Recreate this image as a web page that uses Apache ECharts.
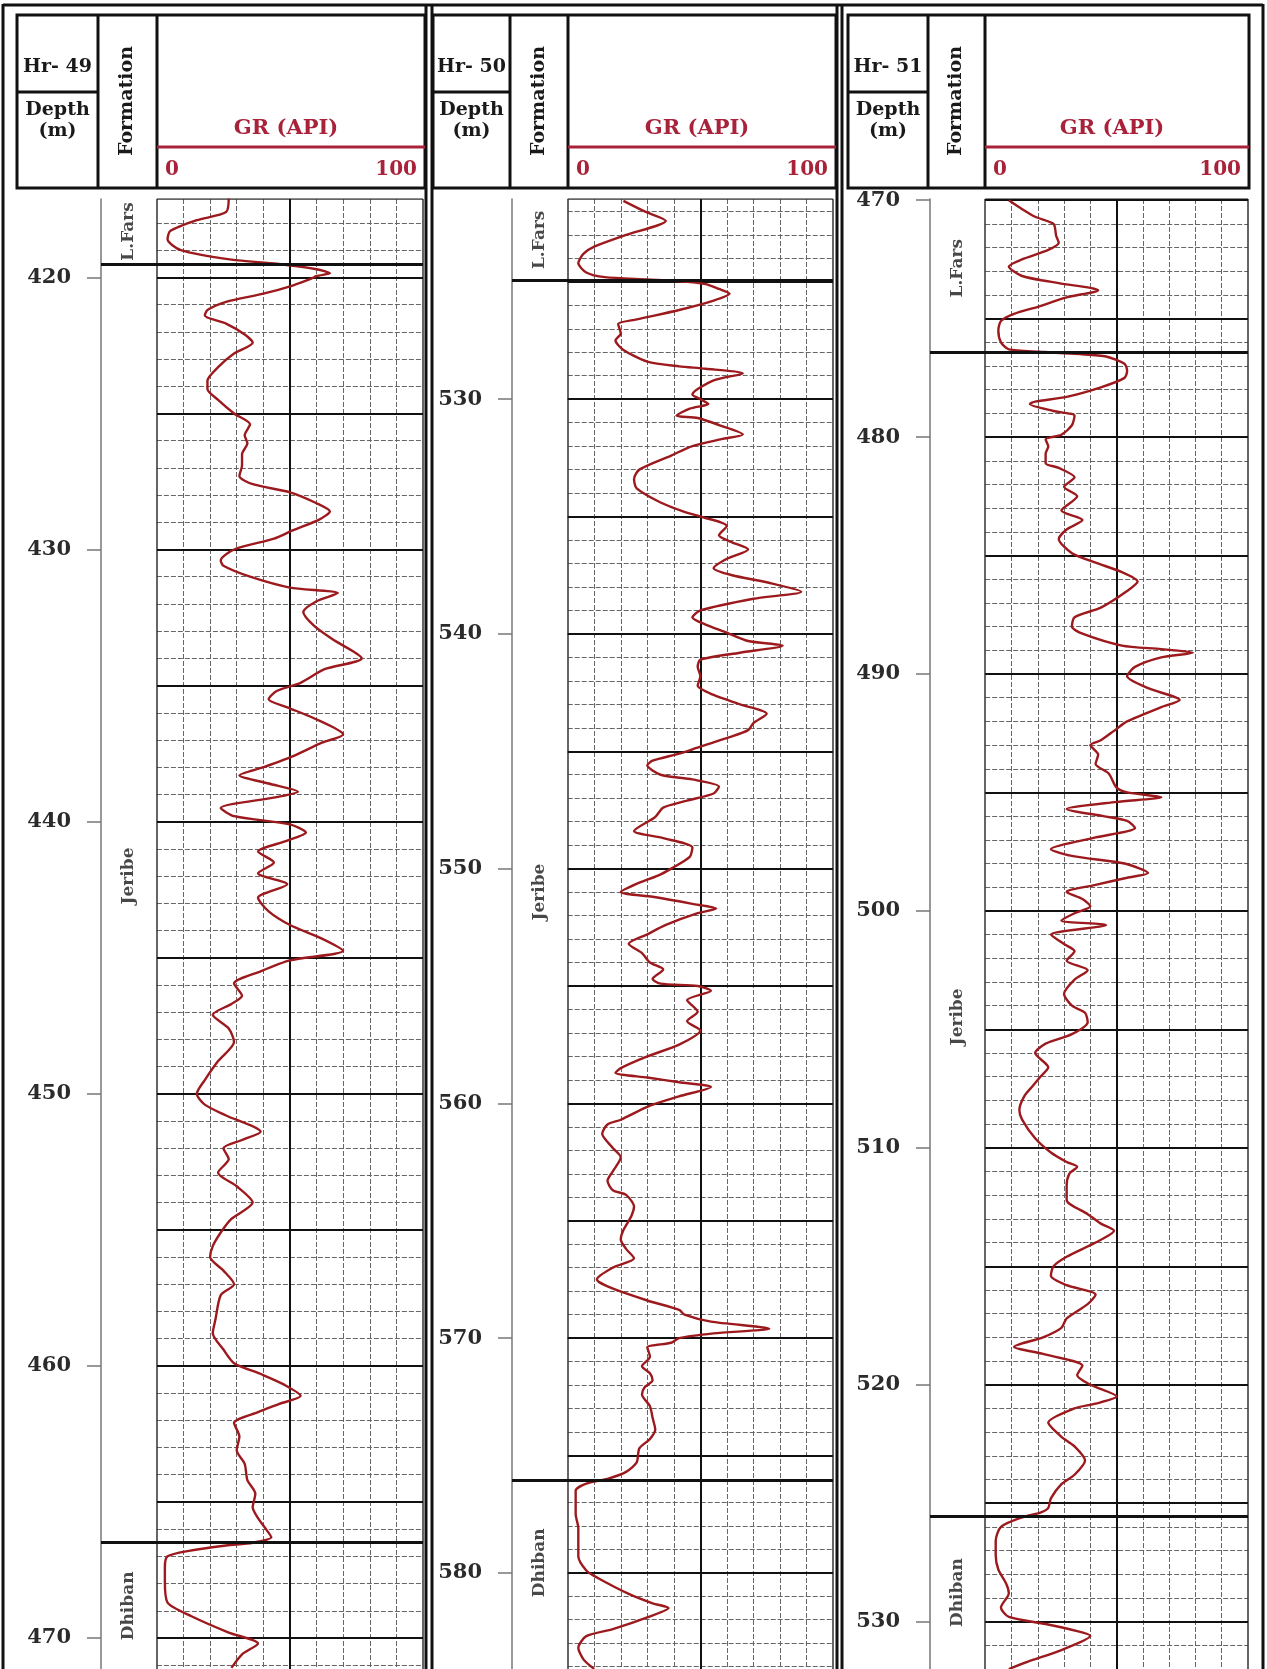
<!DOCTYPE html>
<html>
<head>
<meta charset="utf-8">
<script src="https://cdn.jsdelivr.net/npm/echarts@6/dist/echarts.min.js"></script>
<style>
html, body { margin: 0; padding: 0; background: #fff; }
#chart { width: 1267px; height: 1669px; }
</style>
</head>
<body>
<div id="chart"></div>
<script>
// well names and formation names
var wellNames = ['Hr- 49', 'Hr- 50', 'Hr- 51'];
var formationNames = ['L.Fars', 'Jeribe', 'Dhiban'];

// visible depth range of each track (m)
var depthRange49 = [417.12, 471.14];
var depthRange50 = [521.47, 584.1];
var depthRange51 = [469.95, 532.0];

// depth labels
var depthTicks49 = [420, 430, 440, 450, 460, 470];
var depthTicks50 = [530, 540, 550, 560, 570, 580];
var depthTicks51 = [470, 480, 490, 500, 510, 520, 530];

// formation boundaries (L.Fars/Jeribe, Jeribe/Dhiban)
var tops49 = [419.5, 466.5];
var tops50 = [524.95, 576.05];
var tops51 = [476.4, 525.55];

// GR log, [depth m, GR API]
var gr49 = [
  [417.1, 27], [417.6, 26], [417.9, 15], [418.3, 5], [418.6, 4], [419.0, 9], [419.35, 28],
  [419.5, 45], [419.7, 60], [419.85, 65], [419.95, 60], [420.05, 58], [420.3, 51], [420.6, 40],
  [420.9, 26], [421.2, 19], [421.4, 18], [421.7, 26], [422.1, 33], [422.4, 36], [422.8, 29],
  [423.3, 23], [423.8, 19], [424.1, 19], [424.5, 23], [425.0, 29], [425.4, 35], [425.8, 33],
  [426.1, 34], [426.5, 32], [426.9, 32], [427.3, 31], [427.6, 36], [427.9, 50], [428.3, 60],
  [428.6, 65], [428.9, 61], [429.3, 51], [429.6, 44], [430.0, 29], [430.4, 24], [430.6, 25],
  [431.0, 35], [431.4, 50], [431.6, 68], [431.9, 60], [432.3, 55], [432.8, 59], [433.3, 66],
  [434.0, 77], [434.4, 63], [434.9, 54], [435.2, 45], [435.5, 42], [435.8, 49], [436.2, 59],
  [436.8, 70], [437.1, 62], [437.6, 51], [438.0, 40], [438.3, 31], [438.6, 42], [438.9, 53],
  [439.1, 45], [439.5, 24], [439.8, 29], [440.1, 50], [440.4, 56], [440.7, 49], [441.1, 38],
  [441.5, 44], [441.9, 38], [442.3, 49], [442.8, 38], [443.3, 42], [443.8, 50], [444.3, 62],
  [444.75, 70], [445.1, 50], [445.5, 39], [445.95, 29], [446.4, 32], [446.7, 28], [447.1, 21],
  [447.6, 27], [448.1, 29], [448.8, 23], [449.5, 18], [450.0, 15], [450.4, 18], [450.8, 26],
  [451.4, 39], [451.7, 32], [452.0, 25], [452.4, 27], [452.9, 23], [453.4, 30], [454.0, 36],
  [454.6, 28], [455.1, 24], [455.6, 21], [456.0, 20], [456.5, 25], [457.0, 29], [457.4, 24],
  [458.3, 22], [458.8, 21], [459.4, 25], [459.9, 29], [460.3, 39], [460.7, 48], [461.1, 54],
  [461.4, 46], [461.7, 38], [462.1, 29], [462.6, 31], [463.1, 30], [463.6, 33], [464.2, 34],
  [464.7, 37], [465.2, 36], [465.6, 38], [466.0, 41], [466.3, 43], [466.5, 36], [466.6, 26],
  [466.8, 12], [467.0, 4], [467.4, 3], [467.9, 3], [468.7, 4], [469.2, 13], [469.8, 27],
  [470.2, 38], [470.6, 32], [471.1, 28]
];

var gr50 = [
  [521.55, 21], [522.0, 29], [522.4, 37], [523.0, 22], [523.5, 10], [523.8, 6], [524.2, 4],
  [524.6, 7], [524.8, 14], [524.9, 30], [525.0, 45], [525.1, 52], [525.3, 57], [525.5, 61],
  [525.8, 55], [526.2, 42], [526.6, 26], [526.8, 19], [527.2, 20], [527.5, 18], [527.9, 21],
  [528.4, 30], [528.6, 42], [528.7, 52], [528.9, 66], [529.2, 55], [529.8, 47], [530.0, 50],
  [530.2, 53], [530.4, 46], [530.7, 41], [530.8, 49], [531.1, 57], [531.5, 66], [531.7, 58],
  [532.0, 47], [532.4, 39], [533.0, 27], [533.4, 25], [533.8, 26], [534.4, 35], [534.8, 44],
  [535.0, 50], [535.4, 60], [535.8, 57], [536.1, 62], [536.4, 68], [536.8, 60], [537.2, 55],
  [537.5, 62], [537.8, 75], [538.2, 88], [538.5, 70], [539.0, 50], [539.3, 47], [539.6, 52],
  [539.9, 59], [540.3, 68], [540.5, 81], [540.8, 65], [541.1, 50], [541.4, 49], [541.8, 50],
  [542.2, 49], [542.6, 55], [543.0, 65], [543.4, 75], [543.8, 70], [544.1, 68], [544.4, 61],
  [544.8, 50], [545.1, 42], [545.4, 32], [545.6, 30], [546.0, 35], [546.2, 47], [546.5, 57],
  [546.8, 55], [547.1, 45], [547.4, 36], [547.8, 33], [548.4, 25], [548.7, 36], [549.1, 47],
  [549.5, 46], [550.0, 39], [550.3, 34], [550.6, 27], [551.0, 20], [551.2, 32], [551.5, 47],
  [551.7, 56], [551.9, 49], [552.4, 37], [552.8, 30], [553.2, 23], [553.6, 28], [554.0, 31],
  [554.3, 36], [554.7, 32], [554.9, 35], [555.0, 49], [555.2, 54], [555.6, 45], [556.1, 49],
  [556.5, 45], [556.9, 50], [557.5, 42], [558.0, 30], [558.5, 20], [558.7, 18], [558.9, 30],
  [559.1, 42], [559.3, 54], [559.7, 42], [560.1, 31], [560.7, 20], [560.9, 15], [561.3, 13],
  [561.9, 17], [562.3, 20], [562.9, 17], [563.3, 15], [563.7, 17], [563.9, 22], [564.4, 25],
  [564.8, 24], [565.4, 21], [565.8, 20], [566.2, 22], [566.6, 25], [567.0, 17], [567.5, 11],
  [567.8, 15], [568.4, 30], [568.8, 42], [569.0, 44], [569.3, 54], [569.6, 76], [569.8, 55],
  [570.0, 42], [570.2, 39], [570.4, 30], [570.8, 31], [571.2, 28], [571.5, 31], [571.8, 32],
  [572.1, 29], [572.4, 28], [572.9, 31], [573.4, 32], [573.9, 33], [574.3, 31], [574.7, 27],
  [575.3, 26], [575.7, 22], [576.0, 15], [576.2, 7], [576.5, 3], [577.0, 3], [577.5, 3],
  [578.1, 4], [578.7, 4], [579.3, 4], [579.9, 7], [580.2, 11], [580.9, 23], [581.3, 32],
  [581.5, 38], [581.9, 30], [582.4, 17], [582.7, 7], [583.2, 4], [583.7, 6], [584.1, 10]
];

var gr51 = [
  [470.0, 9], [470.3, 13], [470.7, 19], [471.0, 26], [471.5, 27], [471.8, 28], [472.1, 24],
  [472.5, 14], [472.8, 9], [473.2, 14], [473.5, 28], [473.7, 40], [473.8, 43], [474.1, 31],
  [474.5, 20], [474.8, 11], [475.1, 6], [475.5, 5], [476.0, 6], [476.3, 9], [476.4, 21],
  [476.5, 36], [476.6, 46], [476.9, 53], [477.2, 54], [477.5, 53], [477.9, 44], [478.3, 31],
  [478.5, 19], [478.6, 17], [478.9, 26], [479.1, 34], [479.5, 33], [479.9, 29], [480.1, 23],
  [480.4, 24], [480.7, 23], [481.1, 23], [481.3, 28], [481.7, 34], [482.1, 30], [482.5, 35],
  [483.1, 29], [483.5, 37], [483.9, 31], [484.3, 28], [484.9, 33], [485.3, 42], [485.7, 52],
  [486.1, 58], [486.5, 54], [487.2, 44], [487.6, 34], [488.0, 33], [488.3, 37], [488.8, 52],
  [488.95, 67], [489.1, 79], [489.3, 67], [489.7, 57], [490.1, 54], [490.6, 62], [491.1, 74],
  [491.4, 67], [492.0, 54], [492.4, 49], [492.8, 44], [493.0, 40], [493.4, 43], [493.8, 42],
  [494.2, 47], [494.8, 50], [495.0, 54], [495.2, 67], [495.4, 50], [495.7, 31], [496.0, 45],
  [496.2, 54], [496.5, 57], [496.9, 42], [497.4, 25], [497.7, 34], [498.0, 53], [498.4, 62],
  [498.6, 54], [498.9, 42], [499.2, 31], [499.5, 37], [499.8, 40], [500.1, 34], [500.4, 29],
  [500.6, 46], [501.0, 25], [501.4, 30], [501.7, 34], [502.1, 31], [502.5, 39], [502.9, 34],
  [503.5, 30], [504.0, 33], [504.3, 38], [504.7, 39], [505.2, 33], [505.6, 23], [506.0, 19],
  [506.6, 24], [507.0, 21], [507.4, 18], [507.8, 15], [508.4, 13], [508.8, 14], [509.6, 19],
  [510.2, 25], [510.6, 31], [510.8, 35], [511.1, 32], [511.6, 31], [512.2, 31], [512.8, 39],
  [513.2, 44], [513.5, 49], [514.0, 42], [514.6, 31], [515.0, 26], [515.4, 25], [515.8, 31],
  [516.2, 42], [516.6, 39], [517.2, 31], [517.6, 29], [518.0, 22], [518.4, 11], [518.7, 22],
  [519.2, 37], [519.6, 35], [520.0, 40], [520.5, 50], [520.8, 42], [521.0, 34], [521.6, 24],
  [522.2, 29], [522.6, 34], [523.2, 38], [523.8, 34], [524.2, 29], [524.8, 25], [525.2, 24],
  [525.4, 21], [525.6, 14], [526.0, 6], [526.6, 4], [527.2, 4], [527.8, 5], [528.4, 8],
  [528.8, 9], [529.4, 6], [529.8, 9], [530.1, 23], [530.4, 35], [530.6, 40], [531.2, 29],
  [531.7, 16], [532.0, 9]
];

// page layout of the three panels (px); labelShift moves the formation names (m)
var panels = [
  { name: wellNames[0], log: gr49, range: depthRange49, ticks: depthTicks49, tops: tops49,
    axisX: 101, right: 423, hx0: 17, hx1: 425, hc1: 98, hc2: 157, labelShift: [0, -1, 0] },
  { name: wellNames[1], log: gr50, range: depthRange50, ticks: depthTicks50, tops: tops50,
    axisX: 512, right: 833, hx0: 433, hx1: 836, hc1: 510, hc2: 568, labelShift: [0, 0.5, -0.5] },
  { name: wellNames[2], log: gr51, range: depthRange51, ticks: depthTicks51, tops: tops51,
    axisX: 930, right: 1248, hx0: 848, hx1: 1249, hc1: 928, hc2: 985, labelShift: [-0.3, 3.5, 0] }
];

var FORM_MIN = -21; // formation column left of GR = 0
var SERIF = '"DejaVu Serif", "Liberation Serif", serif';
var RED = '#a8233a';
var CURVE = '#9c1a1e';
var GRID_TOP = 199;

var grids = [], xAxes = [], yAxes = [], series = [], graphics = [];

function seg(x1, y1, x2, y2, w, color) {
  return { type: 'line', silent: true, z: 10,
    shape: { x1: x1, y1: y1, x2: x2, y2: y2 },
    style: { stroke: color || '#111', lineWidth: w } };
}
function txt(x, y, s, size, color, rot, align) {
  return { type: 'text', silent: true, z: 11, x: x, y: y, rotation: rot || 0,
    style: { text: s, fill: color || '#1a1a1a', font: 'bold ' + size + 'px ' + SERIF,
      align: align || 'center', verticalAlign: 'middle',
      textAlign: align || 'center', textVerticalAlign: 'middle' } };
}

// outer frames of the three pictures
graphics.push(seg(3, 5, 1263, 5, 3));
[3, 426, 432, 837, 842, 1263].forEach(function (x) {
  graphics.push(seg(x, 4, x, 1669, 3));
});

panels.forEach(function (p, i) {
  // header box
  graphics.push({ type: 'rect', silent: true, z: 10,
    shape: { x: p.hx0, y: 15, width: p.hx1 - p.hx0, height: 173 },
    style: { fill: 'none', stroke: '#111', lineWidth: 3 } });
  graphics.push(seg(p.hc1, 15, p.hc1, 188, 3));
  graphics.push(seg(p.hc2, 15, p.hc2, 188, 3));
  graphics.push(seg(p.hx0, 92, p.hc1, 92, 3));
  graphics.push(seg(p.hc2, 147, p.hx1, 147, 3, RED));
  var hm = (p.hx0 + p.hc1) / 2;
  graphics.push(txt(hm, 67, p.name, 19));
  graphics.push(txt(hm, 110, 'Depth', 19));
  graphics.push(txt(hm, 131, '(m)', 19));
  graphics.push(txt((p.hc1 + p.hc2) / 2, 101, 'Formation', 19, null, Math.PI / 2));
  graphics.push(txt((p.hc2 + p.hx1) / 2 - 5, 129, 'GR (API)', 21, RED));
  graphics.push(txt(p.hc2 + 8, 170, '0', 20, RED, 0, 'left'));
  graphics.push(txt(p.hx1 - 8, 170, '100', 20, RED, 0, 'right'));

  // chart grid: formation column + GR track
  grids.push({ left: p.axisX, top: GRID_TOP, width: p.right - p.axisX, bottom: 0, show: false });
  xAxes.push({ gridIndex: i, type: 'value', min: FORM_MIN, max: 100, show: false });
  yAxes.push({
    gridIndex: i, type: 'value', inverse: true, min: p.range[0], max: p.range[1],
    axisLine: { show: true, onZero: false, lineStyle: { color: '#777', width: 1.5 } },
    axisTick: { show: true, length: 14, customValues: p.ticks, lineStyle: { color: '#777', width: 1.5 } },
    axisLabel: { customValues: p.ticks, margin: 30, color: '#2b2b2b',
      fontFamily: SERIF, fontWeight: 'bold', fontSize: 21 },
    splitLine: { show: false }
  });

  // grid lines of the track
  var minor = [], major = [], edge = [];
  for (var d = Math.ceil(p.range[0]); d <= p.range[1]; d++) {
    (d % 5 === 0 ? major : minor).push({ coords: [[0, d], [100, d]] });
  }
  for (var g = 10; g < 100; g += 10) {
    (g === 50 ? major : minor).push({ coords: [[g, p.range[0]], [g, p.range[1]]] });
  }
  edge.push({ coords: [[0, p.range[0]], [0, p.range[1]]] });
  edge.push({ coords: [[100, p.range[0]], [100, p.range[1]]] });
  edge.push({ coords: [[0, p.range[0]], [100, p.range[0]]] });

  var base = { type: 'lines', coordinateSystem: 'cartesian2d', xAxisIndex: i, yAxisIndex: i,
    silent: true, polyline: false, animation: false };
  series.push(Object.assign({}, base, { z: 1, data: minor,
    lineStyle: { color: '#666', width: 1, type: [5, 2], opacity: 1 } }));
  series.push(Object.assign({}, base, { z: 2, data: edge,
    lineStyle: { color: '#333', width: 1.5, opacity: 1 } }));
  series.push(Object.assign({}, base, { z: 2, data: major,
    lineStyle: { color: '#111', width: 2, opacity: 1 } }));

  // GR curve
  series.push({
    type: 'line', xAxisIndex: i, yAxisIndex: i, z: 4, silent: true,
    showSymbol: false, smooth: 0.25,
    lineStyle: { color: CURVE, width: 2.4 },
    data: p.log.map(function (r) { return [r[1], r[0]]; })
  });

  // formation boundaries
  series.push(Object.assign({}, base, { z: 5,
    data: p.tops.map(function (t) { return { coords: [[FORM_MIN, t], [100, t]] }; }),
    lineStyle: { color: '#111', width: 3, opacity: 1 } }));

  // formation names
  var bounds = [p.range[0]].concat(p.tops, [p.range[1]]);
  series.push({
    type: 'scatter', xAxisIndex: i, yAxisIndex: i, z: 6, silent: true, symbolSize: 0,
    data: formationNames.map(function (n, k) {
      return { value: [FORM_MIN / 2, (bounds[k] + bounds[k + 1]) / 2 + p.labelShift[k]], name: n };
    }),
    label: { show: true, position: 'inside', rotate: 90, formatter: '{b}',
      color: '#1a1a1a', fontFamily: SERIF, fontWeight: 'bold', fontSize: 17 }
  });
});

var chart = echarts.init(document.getElementById('chart'), null, { renderer: 'canvas' });
chart.setOption({
  animation: false,
  backgroundColor: '#fff',
  grid: grids,
  xAxis: xAxes,
  yAxis: yAxes,
  series: series,
  graphic: { elements: graphics }
});
</script>
</body>
</html>
